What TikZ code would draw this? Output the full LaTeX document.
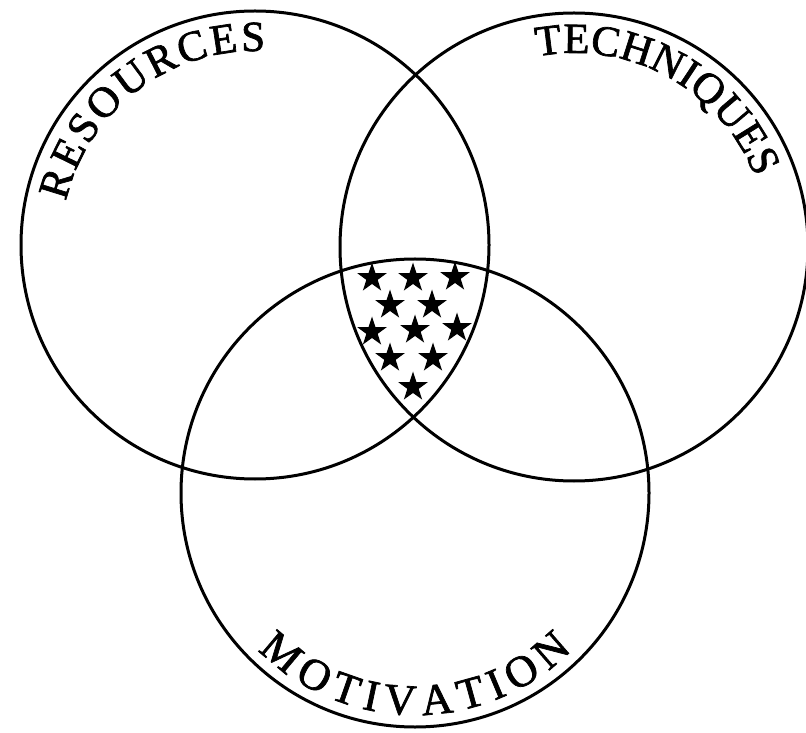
\documentclass[tikz,border=0pt]{standalone}
\usepackage{fontspec}
\setmainfont{Liberation Serif}
\newfontfamily\lblfamily[FakeBold=1.6]{Liberation Serif}
\usetikzlibrary{shapes.geometric,decorations.text}
\newcommand\toplbl{\lblfamily\fontsize{43}{50}\selectfont}
\newcommand\botlbl{\lblfamily\fontsize{44}{52}\selectfont}
\begin{document}
\begin{tikzpicture}[x=1pt,y=1pt,
  ring/.style={circle,draw,line width=3pt,minimum size=468pt,inner sep=0pt,outer sep=0pt},
  vstar/.style={star,star points=5,star point ratio=2.6,fill=black,draw=none,minimum size=31pt,inner sep=0pt}]
\useasboundingbox (0,0) rectangle (806,732);
\node[ring] (L) at (255,487) {};
\node[ring] (R) at (574,485) {};
\node[ring] (B) at (415,239) {};
% labels along the circles
\path[decorate,decoration={text along path,text align=fit to path,text={|\toplbl|RESOURCES}}]
  (L.center) ++(167:194) arc[start angle=167,end angle=87,radius=194pt];
\path[decorate,decoration={text along path,text align=fit to path,text={|\toplbl|TECHNIQUES}}]
  (R.center) ++(101:194) arc[start angle=101,end angle=21,radius=194pt];
\path[decorate,decoration={text along path,text align=fit to path,text={|\botlbl|MOTIVATION}}]
  (B.center) ++(225:222) arc[start angle=225,end angle=315,radius=222pt];
% stars
\node[vstar] (s1) at (372,454) {};
\node[vstar] (s2) at (413,454) {};
\node[vstar] (s3) at (455,455) {};
\node[vstar] (s4) at (390,427) {};
\node[vstar] (s5) at (432,427) {};
\node[vstar] (s6) at (372,400) {};
\node[vstar] (s7) at (415,402) {};
\node[vstar] (s8) at (457,404) {};
\node[vstar] (s9) at (390,374) {};
\node[vstar] (s10) at (433,374) {};
\node[vstar] (s11) at (413,345) {};
\end{tikzpicture}
\end{document}
